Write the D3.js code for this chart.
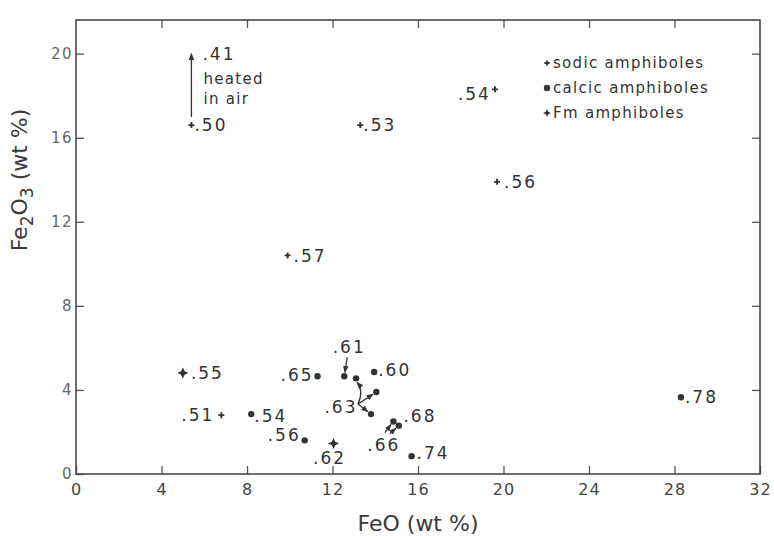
<!DOCTYPE html>
<html lang="en">
<head>
<meta charset="UTF-8">
<title>FeO vs Fe2O3 in amphiboles</title>
<script src="https://d3js.org/d3.v7.min.js"></script>
<style>
  body { margin: 0; background: #fff; }
  svg { display: block; font-family: 'DejaVu Sans', sans-serif; }
  .frame { fill: none; stroke: #3c3c3c; stroke-width: 1.5px; }
  .axis path { display: none; }
  .axis line { stroke: #555; stroke-width: 1.3px; }
  .axis text { font-family: 'DejaVu Sans', sans-serif; font-size: 15px; letter-spacing: 1.5px; fill: #666; }
  .lbl { font-size: 17px; letter-spacing: 2px; fill: #333; }
  .note { font-size: 15px; letter-spacing: 1.3px; fill: #333; }
  .title { font-size: 22px; fill: #3a3a3a; }
  .arrow { stroke: #333; stroke-width: 1.3px; fill: none; }
</style>
</head>
<body>
<svg width="774" height="536"></svg>
<script>
// tick values
var xTicks = [0, 4, 8, 12, 16, 20, 24, 28, 32];
var yTicks = [0, 4, 8, 12, 16, 20];

// sodic amphiboles
var sodicFeO   = [5.4, 13.3, 19.6, 19.7, 9.9, 6.8];
var sodicFe2O3 = [16.6, 16.6, 18.3, 13.9, 10.4, 2.8];
var sodicLabel = [".50", ".53", ".54", ".56", ".57", ".51"];

// calcic amphiboles
var calcicFeO   = [8.2, 10.7, 11.3, 12.55, 13.1, 13.95, 14.05, 13.8, 14.85, 15.1, 15.7, 28.3];
var calcicFe2O3 = [2.85, 1.6, 4.65, 4.65, 4.55, 4.85, 3.9, 2.85, 2.5, 2.3, 0.85, 3.65];
var calcicLabel = [".54", ".56", ".65", ".61", ".63", ".60", ".63", ".63", ".68", ".66", ".74", ".78"];

// Fm amphiboles
var fmFeO   = [5.0, 12.05];
var fmFe2O3 = [4.8, 1.45];
var fmLabel = [".55", ".62"];

// sample .50 after heating in air
var heatedFeO = 5.4, heatedFe2O3 = 20.0, heatedLabel = ".41";

var legendItems = ["sodic amphiboles", "calcic amphiboles", "Fm amphiboles"];

// label placement (pixel offsets from the marker)
var sodicPos  = [[3, 0, "start"], [3, 0, "start"], [-4, 5, "end"], [7, 0, "start"], [6, 0, "start"], [-7, 0, "end"]];
var fmPos     = [[8, 0, "start"], [-4, 14, "middle"]];
var calcicPos = [[3, 2, "start"], [-4, -5, "end"], [-4, -1, "end"], null, null, [4, -2, "start"],
                 null, null, [10, -6, "start"], null, [5, -3, "start"], [4, 0, "start"]];

var svg = d3.select("svg");

var x = d3.scaleLinear().domain([0, 32]).range([76, 760]);
var y = d3.scaleLinear().domain([0, 21.6]).range([474, 20]);

// axes, all ticks pointing inward
svg.append("g").attr("class", "axis")
    .attr("transform", "translate(0," + y(0) + ")")
    .call(d3.axisBottom(x).tickValues(xTicks).tickSize(-8).tickPadding(10))
    .selectAll("text").style("fill", "#444").style("font-size", "16px").style("letter-spacing", "1px");

svg.append("g").attr("class", "axis")
    .attr("transform", "translate(" + x(0) + ",0)")
    .call(d3.axisLeft(y).tickValues(yTicks).tickSize(-8).tickPadding(3));

svg.append("g").attr("class", "axis")
    .attr("transform", "translate(0," + y(21.6) + ")")
    .call(d3.axisTop(x).tickValues(xTicks.slice(1, -1)).tickSize(-8).tickFormat(""));

svg.append("g").attr("class", "axis")
    .attr("transform", "translate(" + x(32) + ",0)")
    .call(d3.axisRight(y).tickValues(yTicks.slice(1)).tickSize(-8).tickFormat(""));

svg.append("rect").attr("class", "frame")
    .attr("x", x(0)).attr("y", y(21.6))
    .attr("width", x(32) - x(0)).attr("height", y(0) - y(21.6));

// axis titles
svg.append("text").attr("class", "title")
    .attr("x", 418).attr("y", 531).attr("text-anchor", "middle")
    .text("FeO (wt %)");

var yt = svg.append("text").attr("class", "title")
    .attr("transform", "translate(27,180) rotate(-90)")
    .attr("text-anchor", "middle");
yt.append("tspan").text("Fe");
yt.append("tspan").attr("dy", 6).style("font-size", "17px").text("2");
yt.append("tspan").attr("dy", -6).text("O");
yt.append("tspan").attr("dy", 6).style("font-size", "17px").text("3");
yt.append("tspan").attr("dy", -6).text(" (wt %)");

// arrowhead
svg.append("defs").append("marker")
    .attr("id", "head").attr("viewBox", "0 0 10 10")
    .attr("refX", 9).attr("refY", 5)
    .attr("markerWidth", 7).attr("markerHeight", 7)
    .attr("markerUnits", "userSpaceOnUse")
    .attr("orient", "auto")
  .append("path").attr("d", "M0,1L10,5L0,9Z").attr("fill", "#333");

// symbol painters
function plus(g, r) {
    g.append("path").attr("d", "M" + (-r) + ",0H" + r + "M0," + (-r) + "V" + r)
        .attr("stroke", "#333").attr("stroke-width", 1.9);
}
function dot(g, r) {
    g.append("circle").attr("r", r).attr("fill", "#333");
}
function star(g, r) {
    var k = r * 0.32;
    g.append("path")
        .attr("d", "M0," + (-r) + "L" + k + "," + (-k) + "L" + r + ",0L" + k + "," + k +
                   "L0," + r + "L" + (-k) + "," + k + "L" + (-r) + ",0L" + (-k) + "," + (-k) + "Z")
        .attr("fill", "#333");
}

function drawSeries(fx, fy, labels, pos, painter, size) {
    fx.forEach(function(v, i) {
        var px = x(v), py = y(fy[i]);
        var g = svg.append("g").attr("transform", "translate(" + px + "," + py + ")");
        painter(g, size);
        var p = pos[i];
        if (p) {
            svg.append("text").attr("class", "lbl")
                .attr("x", px + p[0]).attr("y", py + p[1]).attr("dy", "0.36em")
                .attr("text-anchor", p[2])
                .text(labels[i]);
        }
    });
}

drawSeries(sodicFeO, sodicFe2O3, sodicLabel, sodicPos, plus, 3);
drawSeries(calcicFeO, calcicFe2O3, calcicLabel, calcicPos, dot, 3.2);
drawSeries(fmFeO, fmFe2O3, fmLabel, fmPos, star, 5.5);

// callouts for the crowded cluster
function cpt(i) { return [x(calcicFeO[i]), y(calcicFe2O3[i])]; }
function shortLine(a, b, cut) {
    var dx = b[0] - a[0], dy = b[1] - a[1], L = Math.sqrt(dx * dx + dy * dy);
    return [b[0] - dx / L * cut, b[1] - dy / L * cut];
}
function arrowLine(a, b) {
    var e = shortLine(a, b, 4);
    svg.append("path").attr("class", "arrow")
        .attr("d", "M" + a[0] + "," + a[1] + "L" + e[0] + "," + e[1])
        .attr("marker-end", "url(#head)");
}
function calloutText(p, t) {
    svg.append("text").attr("class", "lbl")
        .attr("x", p[0]).attr("y", p[1]).attr("dy", "0.36em")
        .attr("text-anchor", "middle").text(t);
}

// .61
var c61 = cpt(3);
calloutText([c61[0] + 5, c61[1] - 29], calcicLabel[3]);
arrowLine([c61[0] + 3, c61[1] - 19], c61);

// .63 (three analyses)
var c63 = cpt(7);
calloutText([c63[0] - 30, c63[1] - 7], calcicLabel[7]);
var o63 = [c63[0] - 13, c63[1] - 10];
arrowLine(o63, cpt(6));
arrowLine(o63, cpt(7));
var t63 = cpt(4);
svg.append("path").attr("class", "arrow")
    .attr("d", "M" + o63[0] + "," + o63[1] + "Q" + (t63[0] + 8) + "," + (t63[1] + 12) + " " + (t63[0] + 1) + "," + (t63[1] + 4))
    .attr("marker-end", "url(#head)");

// .66
var c66 = cpt(9);
calloutText([c66[0] - 15, c66[1] + 19], calcicLabel[9]);
arrowLine([c66[0] - 14, c66[1] + 7], cpt(8));
arrowLine([c66[0] - 9, c66[1] + 8], c66);

// heating arrow for .50 -> .41
var hx = x(heatedFeO), hy0 = y(sodicFe2O3[0]) - 8, hy1 = y(heatedFe2O3);
svg.append("path").attr("class", "arrow")
    .attr("d", "M" + hx + "," + hy0 + "V" + hy1)
    .attr("marker-end", "url(#head)");
svg.append("text").attr("class", "lbl")
    .attr("x", hx + 11).attr("y", hy1).attr("dy", "0.36em").text(heatedLabel);
svg.append("text").attr("class", "note")
    .attr("x", hx + 12).attr("y", hy1 + 25).attr("dy", "0.36em").text("heated");
svg.append("text").attr("class", "note")
    .attr("x", hx + 12).attr("y", hy1 + 45).attr("dy", "0.36em").text("in air");

// legend
var painters = [plus, dot, star];
var sizes = [2.6, 3.2, 4];
legendItems.forEach(function(t, i) {
    var ly = 63 + i * 25;
    var g = svg.append("g").attr("transform", "translate(547," + ly + ")");
    painters[i](g, sizes[i]);
    svg.append("text").attr("class", "note")
        .attr("x", 553).attr("y", ly).attr("dy", "0.36em").text(t);
});
</script>
</body>
</html>
